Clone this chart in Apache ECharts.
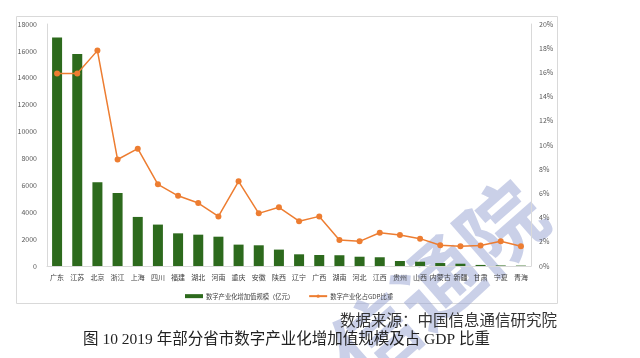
<!DOCTYPE html>
<html><head><meta charset="utf-8">
<script src="https://cdn.jsdelivr.net/npm/echarts@6/dist/echarts.min.js"></script>
<style>html,body{margin:0;padding:0;background:#fff}#c{width:640px;height:358px}</style>
</head><body><div id="c"></div>
<script>
var categories = ['广东','江苏','北京','浙江','上海','四川','福建','湖北','河南','重庆','安徽','陕西','辽宁','广西','湖南','河北','江西','贵州','山西','内蒙古','新疆','甘肃','宁夏','青海'];
var scaleValues = [17000,15770,6230,5430,3650,3080,2430,2330,2180,1590,1540,1220,870,820,800,690,650,370,320,220,170,80,40,30];
var gdpShare = [0.159,0.159,0.178,0.088,0.097,0.0675,0.058,0.052,0.041,0.070,0.0435,0.0485,0.037,0.041,0.0215,0.0204,0.0275,0.0256,0.0226,0.0171,0.0163,0.017,0.0204,0.0163];
var leftTicks = [0,2000,4000,6000,8000,10000,12000,14000,16000,18000];
var seriesNames = ['数字产业化增加值规模（亿元）','数字产业化占GDP比重'];
var sourceText = '数据来源：中国信息通信研究院';
var captionText = '图 10 2019 年部分省市数字产业化增加值规模及占 GDP 比重';

var chart = echarts.init(document.getElementById('c'));
var axisLabelStyle = {fontSize:7, color:'#595959', fontFamily:'Noto Sans CJK SC'};
chart.setOption({
  animation:false,
  textStyle:{fontFamily:'Noto Sans CJK SC'},
  grid:{left:47, right:109, top:24, bottom:92},
  legend:{
    data:[{name:seriesNames[0], icon:'rect'},{name:seriesNames[1]}],
    left:180, top:288, itemGap:14, itemWidth:18, itemHeight:4,
    textStyle:{fontSize:6.3, color:'#404040', padding:[0,0,0,-2]}
  },
  xAxis:{
    type:'category', data:categories,
    axisLine:{show:true, lineStyle:{color:'#d9d9d9'}},
    axisTick:{show:false},
    axisLabel:{fontSize:7, color:'#404040', interval:0, margin:8}
  },
  yAxis:[
    {type:'value', min:leftTicks[0], max:leftTicks[leftTicks.length-1], interval:leftTicks[1]-leftTicks[0],
     axisLine:{show:true, lineStyle:{color:'#d9d9d9'}},
     axisTick:{show:false}, splitLine:{show:false},
     axisLabel:Object.assign({margin:10, formatter:function(v){return String(v);}}, axisLabelStyle)},
    {type:'value', min:0, max:0.2, interval:0.02, position:'right',
     axisLine:{show:true, lineStyle:{color:'#d9d9d9'}},
     axisTick:{show:false}, splitLine:{show:false},
     axisLabel:Object.assign({margin:8, formatter:function(v){return Math.round(v*100)+'%';}}, axisLabelStyle)}
  ],
  series:[
    {name:seriesNames[0], type:'bar', data:scaleValues, barWidth:10, itemStyle:{color:'#2d6a1d'}, z:2},
    {name:seriesNames[1], type:'line', yAxisIndex:1, data:gdpShare, symbol:'circle', symbolSize:6,
     lineStyle:{color:'#ed7d31', width:1.5}, itemStyle:{color:'#ed7d31'}, z:3}
  ],
  graphic:[
    {type:'rect', shape:{x:16.5, y:16.5, width:541, height:287}, style:{fill:'none', stroke:'#d9d9d9', lineWidth:1}, z:-10},
    {type:'text', x:438, y:282, rotation:0.72, originX:0, originY:0,
     style:{text:'信通院', font:'bold 84px "Noto Sans CJK SC"', fill:'rgba(150,162,210,0.5)', textAlign:'center', textVerticalAlign:'middle'}, z:-5, silent:true},
    {type:'text', right:83, top:312, style:{text:sourceText, font:'15.5px "Noto Sans CJK SC"', fill:'#333'}, z:10},
    {type:'text', left:83, top:332, style:{text:captionText, font:'15.5px "Liberation Serif","Noto Sans CJK SC"', fill:'#222'}, z:10}
  ]
});
</script></body></html>
